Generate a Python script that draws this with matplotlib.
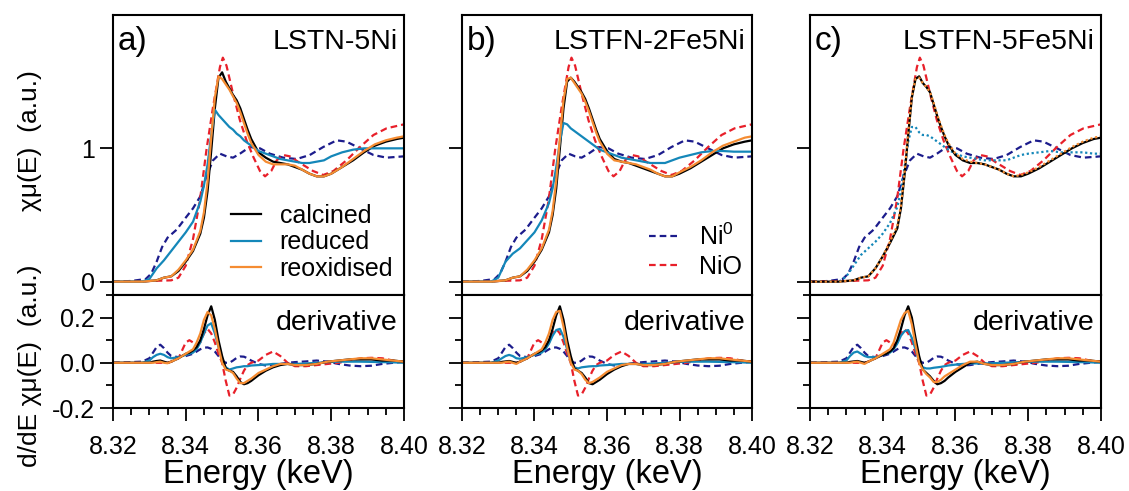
import matplotlib
matplotlib.use("Agg")
import matplotlib.pyplot as plt
from matplotlib.ticker import MultipleLocator

plt.rcParams['font.family'] = ['Liberation Sans', 'DejaVu Sans']
plt.rcParams['mathtext.fontset'] = 'custom'
plt.rcParams['mathtext.rm'] = 'Liberation Sans'
plt.rcParams['mathtext.it'] = 'Liberation Sans:italic'
plt.rcParams['axes.unicode_minus'] = False

# ---------------- data ----------------
panel_letters = ["a)", "b)", "c)"]
panel_names = ["LSTN-5Ni", "LSTFN-2Fe5Ni", "LSTFN-5Fe5Ni"]
series_labels = ["calcined", "reduced", "reoxidised"]
ref_labels = ["Ni$^{0}$", "NiO"]
x_ticks = [8.32, 8.34, 8.36, 8.38, 8.40]
x_tick_labels = ["8.32", "8.34", "8.36", "8.38", "8.40"]

# XANES energy grid for sample curves (keV)
E_x = [8.320, 8.328, 8.330, 8.332, 8.334, 8.336, 8.338, 8.340, 8.342, 8.344,
       8.345, 8.346, 8.347, 8.348, 8.349, 8.350, 8.351, 8.352, 8.353, 8.354,
       8.355, 8.356, 8.357, 8.358, 8.360, 8.362, 8.364, 8.366, 8.368, 8.370,
       8.372, 8.374, 8.376, 8.378, 8.380, 8.383, 8.386, 8.389, 8.392, 8.395,
       8.398, 8.400]

a_calcined = [0.0, 0.0, 0.005, 0.01, 0.03, 0.04, 0.08, 0.15, 0.23, 0.36,
              0.48, 0.68, 0.98, 1.30, 1.53, 1.57, 1.50, 1.45, 1.40, 1.36,
              1.30, 1.22, 1.14, 1.07, 0.97, 0.93, 0.90, 0.89, 0.88, 0.86,
              0.84, 0.81, 0.79, 0.79, 0.81, 0.86, 0.91, 0.97, 1.02, 1.05,
              1.07, 1.08]
a_reduced = [0.0, 0.0, 0.02, 0.10, 0.16, 0.23, 0.30, 0.37, 0.45, 0.60,
             0.72, 0.88, 1.10, 1.29, 1.25, 1.22, 1.19, 1.16, 1.14, 1.11,
             1.09, 1.06, 1.04, 1.02, 0.98, 0.96, 0.94, 0.92, 0.91, 0.90,
             0.89, 0.89, 0.90, 0.91, 0.94, 0.97, 0.99, 1.00, 1.00, 1.00,
             1.00, 1.00]
a_reoxidised = [0.0, 0.0, 0.005, 0.01, 0.03, 0.04, 0.09, 0.16, 0.24, 0.38,
                0.52, 0.75, 1.08, 1.38, 1.54, 1.52, 1.48, 1.44, 1.39, 1.34,
                1.27, 1.19, 1.11, 1.04, 0.95, 0.90, 0.88, 0.88, 0.88, 0.87,
                0.84, 0.81, 0.79, 0.79, 0.81, 0.86, 0.92, 0.98, 1.03, 1.06,
                1.08, 1.09]

b_calcined = [0.0, 0.0, 0.005, 0.01, 0.03, 0.04, 0.08, 0.15, 0.24, 0.37,
              0.50, 0.70, 1.00, 1.30, 1.50, 1.53, 1.50, 1.46, 1.42, 1.37,
              1.30, 1.22, 1.14, 1.07, 0.98, 0.92, 0.90, 0.89, 0.87, 0.85,
              0.83, 0.81, 0.79, 0.79, 0.81, 0.85, 0.90, 0.95, 1.00, 1.03,
              1.05, 1.06]
b_reduced = [0.0, 0.0, 0.03, 0.15, 0.21, 0.25, 0.31, 0.37, 0.46, 0.59,
             0.70, 0.86, 1.05, 1.19, 1.18, 1.15, 1.13, 1.11, 1.09, 1.07,
             1.05, 1.03, 1.01, 0.99, 0.97, 0.95, 0.93, 0.92, 0.91, 0.90,
             0.89, 0.89, 0.89, 0.91, 0.93, 0.95, 0.97, 0.98, 0.98, 0.975,
             0.975, 0.975]
b_reoxidised = [0.0, 0.0, 0.005, 0.01, 0.03, 0.04, 0.09, 0.16, 0.25, 0.39,
                0.53, 0.76, 1.08, 1.36, 1.52, 1.53, 1.49, 1.45, 1.41, 1.35,
                1.28, 1.20, 1.12, 1.05, 0.96, 0.91, 0.90, 0.89, 0.88, 0.86,
                0.84, 0.81, 0.79, 0.79, 0.82, 0.86, 0.91, 0.97, 1.02, 1.05,
                1.08, 1.09]

c_calcined = [0.0, 0.0, 0.005, 0.01, 0.03, 0.04, 0.10, 0.19, 0.29, 0.40,
              0.55, 0.80, 1.10, 1.38, 1.52, 1.54, 1.49, 1.46, 1.42, 1.33,
              1.24, 1.16, 1.09, 1.03, 0.95, 0.91, 0.89, 0.89, 0.88, 0.86,
              0.84, 0.81, 0.79, 0.79, 0.81, 0.85, 0.90, 0.95, 1.00, 1.04,
              1.07, 1.08]
c_reduced = [0.0, 0.0, 0.04, 0.12, 0.20, 0.25, 0.30, 0.36, 0.44, 0.56,
             0.68, 0.86, 1.05, 1.16, 1.16, 1.12, 1.10, 1.10, 1.09, 1.07,
             1.05, 1.03, 1.01, 0.99, 0.96, 0.94, 0.93, 0.92, 0.91, 0.91,
             0.91, 0.91, 0.93, 0.95, 0.96, 0.97, 0.98, 0.97, 0.97, 0.97,
             0.96, 0.96]
c_reoxidised = [0.0, 0.0, 0.005, 0.01, 0.03, 0.04, 0.10, 0.19, 0.30, 0.42,
                0.57, 0.82, 1.12, 1.39, 1.52, 1.53, 1.49, 1.46, 1.42, 1.34,
                1.25, 1.17, 1.10, 1.04, 0.96, 0.92, 0.90, 0.89, 0.88, 0.86,
                0.84, 0.81, 0.79, 0.80, 0.82, 0.86, 0.91, 0.96, 1.01, 1.05,
                1.08, 1.09]

# reference spectra
E_ni0 = [8.320, 8.325, 8.329, 8.3305, 8.332, 8.3335, 8.335, 8.3375, 8.340,
         8.342, 8.344, 8.3457, 8.3475, 8.3494, 8.3512, 8.353, 8.3549, 8.3576,
         8.3604, 8.3631, 8.3668, 8.3705, 8.3741, 8.3778, 8.3815, 8.3842,
         8.3879, 8.3916, 8.3952, 8.400]
ni0 = [0.0, 0.005, 0.02, 0.06, 0.15, 0.26, 0.33, 0.39, 0.48, 0.55, 0.64, 0.79,
       0.91, 0.96, 0.94, 0.93, 0.96, 1.01, 1.00, 0.96, 0.93, 0.92, 0.95, 1.01,
       1.06, 1.05, 1.00, 0.95, 0.93, 0.94]
E_nio = [8.320, 8.330, 8.336, 8.338, 8.340, 8.342, 8.3439, 8.3457, 8.3475,
         8.3494, 8.3502, 8.3512, 8.353, 8.3549, 8.3567, 8.3585, 8.3604, 8.3618,
         8.3635, 8.365, 8.3668, 8.3686, 8.3714, 8.375, 8.3778, 8.3806, 8.3842,
         8.3879, 8.3916, 8.3952, 8.400]
nio = [0.0, 0.005, 0.01, 0.03, 0.12, 0.32, 0.61, 0.99, 1.31, 1.61, 1.68, 1.62,
       1.41, 1.21, 1.06, 0.94, 0.83, 0.79, 0.83, 0.91, 0.95, 0.94, 0.89, 0.83,
       0.80, 0.83, 0.91, 1.01, 1.10, 1.15, 1.18]

# derivative energy grid (keV)
E_d = [8.320, 8.328, 8.330, 8.331, 8.332, 8.333, 8.334, 8.335, 8.336, 8.338,
       8.340, 8.341, 8.342, 8.343, 8.344, 8.345, 8.346, 8.347, 8.348, 8.349,
       8.350, 8.351, 8.352, 8.353, 8.354, 8.355, 8.356, 8.357, 8.358, 8.360,
       8.362, 8.364, 8.366, 8.368, 8.370, 8.373, 8.376, 8.379, 8.382, 8.385,
       8.388, 8.391, 8.394, 8.397, 8.400]

a_d_calcined = [0, 0, 0.0, 0.005, 0.008, 0.01, 0.005, 0.0, 0.005, 0.02,
                0.04, 0.045, 0.055, 0.07, 0.10, 0.15, 0.21, 0.25, 0.19, 0.10,
                0.03, -0.025, -0.035, -0.04, -0.06, -0.085, -0.095, -0.09, -0.08, -0.055,
                -0.035, -0.02, -0.01, -0.005, -0.01, -0.01, -0.005, 0.005, 0.01, 0.015,
                0.015, 0.015, 0.01, 0.01, 0.005]
a_d_reduced = [0, 0, 0.01, 0.025, 0.035, 0.04, 0.035, 0.025, 0.02, 0.025,
               0.035, 0.04, 0.045, 0.06, 0.09, 0.13, 0.165, 0.175, 0.13, 0.07,
               0.01, -0.02, -0.03, -0.025, -0.02, -0.018, -0.015, -0.015, -0.012, -0.01,
               -0.008, -0.005, -0.005, -0.005, -0.005, -0.003, 0.0, 0.003, 0.005, 0.005,
               0.005, 0.004, 0.003, 0.002, 0.0]
a_d_reoxidised = [0, 0, 0, 0.0, 0.003, 0.005, 0.0, -0.002, 0.005, 0.02,
                  0.04, 0.05, 0.06, 0.09, 0.13, 0.19, 0.225, 0.21, 0.15, 0.07,
                  0.0, -0.03, -0.035, -0.045, -0.07, -0.09, -0.09, -0.08, -0.07, -0.045,
                  -0.03, -0.015, -0.005, -0.005, -0.01, -0.01, -0.005, 0.005, 0.01, 0.015,
                  0.02, 0.02, 0.015, 0.01, 0.005]

b_d_calcined = [0, 0, 0.0, 0.004, 0.006, 0.008, 0.004, 0.0, 0.005, 0.02,
                0.04, 0.045, 0.055, 0.07, 0.10, 0.15, 0.21, 0.25, 0.19, 0.10,
                0.03, -0.025, -0.035, -0.045, -0.065, -0.09, -0.095, -0.085, -0.075, -0.05,
                -0.03, -0.015, -0.005, -0.005, -0.01, -0.01, -0.005, 0.005, 0.01, 0.015,
                0.015, 0.015, 0.01, 0.01, 0.005]
b_d_reduced = [0, 0, 0.01, 0.02, 0.03, 0.035, 0.03, 0.02, 0.018, 0.025,
               0.035, 0.04, 0.045, 0.06, 0.085, 0.12, 0.145, 0.15, 0.115, 0.06,
               0.005, -0.02, -0.025, -0.02, -0.018, -0.016, -0.015, -0.015, -0.012, -0.01,
               -0.008, -0.005, -0.005, -0.005, -0.005, -0.003, 0.0, 0.003, 0.005, 0.005,
               0.005, 0.004, 0.003, 0.002, 0.0]
b_d_reoxidised = [0, 0, 0, 0.0, 0.003, 0.005, 0.0, -0.005, 0.005, 0.02,
                  0.04, 0.05, 0.06, 0.09, 0.13, 0.19, 0.225, 0.23, 0.16, 0.07,
                  0.0, -0.03, -0.035, -0.05, -0.075, -0.09, -0.085, -0.075, -0.065, -0.04,
                  -0.025, -0.01, -0.005, -0.005, -0.01, -0.01, -0.005, 0.005, 0.01, 0.015,
                  0.02, 0.02, 0.015, 0.01, 0.005]

c_d_calcined = [0, 0, 0.0, 0.004, 0.006, 0.008, 0.004, 0.0, 0.005, 0.02,
                0.035, 0.04, 0.05, 0.065, 0.10, 0.15, 0.21, 0.25, 0.20, 0.11,
                0.03, -0.03, -0.045, -0.06, -0.08, -0.095, -0.09, -0.08, -0.065, -0.04,
                -0.02, 0.0, 0.005, -0.005, -0.01, -0.01, -0.005, 0.005, 0.01, 0.015,
                0.015, 0.015, 0.01, 0.01, 0.005]
c_d_reduced = [0, 0, 0.01, 0.03, 0.045, 0.05, 0.04, 0.03, 0.025, 0.025,
               0.035, 0.04, 0.045, 0.06, 0.085, 0.12, 0.14, 0.145, 0.11, 0.06,
               0.005, -0.02, -0.025, -0.025, -0.022, -0.02, -0.018, -0.015, -0.012, -0.008,
               -0.005, -0.003, -0.003, -0.003, -0.002, 0.0, 0.002, 0.004, 0.005, 0.005,
               0.005, 0.004, 0.003, 0.002, 0.0]
c_d_reoxidised = [0, 0, 0, 0.0, 0.003, 0.005, 0.0, -0.005, 0.005, 0.02,
                  0.04, 0.05, 0.06, 0.09, 0.14, 0.19, 0.22, 0.23, 0.17, 0.08,
                  0.0, -0.03, -0.05, -0.065, -0.085, -0.085, -0.075, -0.06, -0.05, -0.03,
                  -0.01, 0.005, 0.005, -0.005, -0.01, -0.01, -0.005, 0.005, 0.01, 0.015,
                  0.02, 0.02, 0.015, 0.01, 0.005]

d_ni0 = [0, 0.005, 0.02, 0.045, 0.07, 0.08, 0.065, 0.045, 0.03, 0.025,
         0.03, 0.035, 0.04, 0.05, 0.06, 0.067, 0.068, 0.062, 0.05, 0.03,
         0.01, 0.0, 0.0, 0.01, 0.022, 0.028, 0.027, 0.02, 0.01, -0.005,
         -0.012, -0.01, -0.005, 0.0, 0.003, 0.006, 0.01, 0.005, -0.005, -0.012,
         -0.015, -0.013, -0.005, 0.0, 0.005]
d_nio = [0, 0, 0, 0, 0, 0, 0, 0, 0.005, 0.02,
         0.09, 0.10, 0.09, 0.08, 0.09, 0.13, 0.15, 0.13, 0.09, 0.04,
         0.0, -0.08, -0.145, -0.14, -0.11, -0.07, -0.035, -0.01, 0.0, 0.01,
         0.035, 0.05, 0.03, 0.0, -0.015, -0.015, -0.01, -0.005, 0.0, 0.01,
         0.02, 0.022, 0.02, 0.01, 0.005]

calcined_all = [a_calcined, b_calcined, c_calcined]
reduced_all = [a_reduced, b_reduced, c_reduced]
reoxidised_all = [a_reoxidised, b_reoxidised, c_reoxidised]
d_calcined_all = [a_d_calcined, b_d_calcined, c_d_calcined]
d_reduced_all = [a_d_reduced, b_d_reduced, c_d_reduced]
d_reoxidised_all = [a_d_reoxidised, b_d_reoxidised, c_d_reoxidised]

# ---------------- style ----------------
C_CALC = "#000000"
C_RED = "#1487b9"
C_REOX = "#f58c32"
C_NI0 = "#1c1c8c"
C_NIO = "#e8202a"
LW = 1.6
DASH = (0, (3.0, 1.8))
DOT = (0, (1, 1.2))

W, H = 1129, 491
fig = plt.figure(figsize=(W / 100, H / 100), dpi=100)

lefts_px = [113, 462, 810]
widths_px = [291, 290, 291]
top_px, mid_px, bot_px = 15, 295, 408

FS_TICK = 18
for i in range(3):
    l = lefts_px[i] / W
    w = widths_px[i] / W
    ax_t = fig.add_axes([l, (H - mid_px) / H, w, (mid_px - top_px) / H])
    ax_b = fig.add_axes([l, (H - bot_px) / H, w, (bot_px - mid_px) / H], sharex=ax_t)

    h_ni0, = ax_t.plot(E_ni0, ni0, color=C_NI0, lw=LW, ls=DASH, label=ref_labels[0])
    h_nio, = ax_t.plot(E_nio, nio, color=C_NIO, lw=LW, ls=DASH, label=ref_labels[1])
    if i < 2:
        hc, = ax_t.plot(E_x, calcined_all[i], color=C_CALC, lw=LW, label=series_labels[0])
        hr, = ax_t.plot(E_x, reduced_all[i], color=C_RED, lw=LW, label=series_labels[1])
        ho, = ax_t.plot(E_x, reoxidised_all[i], color=C_REOX, lw=LW, label=series_labels[2])
    else:
        hr, = ax_t.plot(E_x, reduced_all[i], color=C_RED, lw=LW, ls=DOT,
                        label=series_labels[1])
        hc, = ax_t.plot(E_x, calcined_all[i], color=C_CALC, lw=LW, label=series_labels[0])
        ho, = ax_t.plot(E_x, reoxidised_all[i], color=C_REOX, lw=LW, ls=DOT,
                        label=series_labels[2])
    if i == 0:
        lines_legend = [hc, hr, ho]

    ax_b.plot(E_d, d_ni0, color=C_NI0, lw=LW, ls=DASH)
    ax_b.plot(E_d, d_nio, color=C_NIO, lw=LW, ls=DASH)
    ax_b.plot(E_d, d_reduced_all[i], color=C_RED, lw=LW)
    ax_b.plot(E_d, d_calcined_all[i], color=C_CALC, lw=LW)
    ax_b.plot(E_d, d_reoxidised_all[i], color=C_REOX, lw=LW)

    for ax in (ax_t, ax_b):
        ax.set_xlim(8.32, 8.40)
        for s in ax.spines.values():
            s.set_linewidth(1.5)
    ax_t.set_ylim(-0.1, 2.0)
    ax_b.set_ylim(-0.2, 0.3)

    ax_b.set_xticks(x_ticks)
    ax_b.set_xticklabels(x_tick_labels)
    ax_b.xaxis.set_minor_locator(MultipleLocator(0.005))
    ax_t.set_yticks([0, 1])
    ax_b.set_yticks([-0.2, 0.0, 0.2])
    ax_b.yaxis.set_minor_locator(MultipleLocator(0.1))

    ax_t.tick_params(axis='x', which='both', direction='out', bottom=True, top=False,
                     labelbottom=False, width=1.3)
    ax_t.tick_params(axis='x', which='major', length=6.5)
    ax_t.tick_params(axis='x', which='minor', length=5.5)
    ax_t.tick_params(axis='y', which='major', direction='out', length=9.5, width=1.3,
                     labelsize=FS_TICK, pad=3.5)
    ax_b.tick_params(axis='x', which='major', direction='out', length=9, width=1.3,
                     labelsize=FS_TICK, pad=10.5)
    ax_b.tick_params(axis='x', which='minor', direction='out', length=5, width=1.3)
    ax_b.tick_params(axis='y', which='major', direction='out', length=9.5, width=1.3,
                     labelsize=FS_TICK, pad=3.5)
    ax_b.tick_params(axis='y', which='minor', direction='out', length=5, width=1.3)
    if i > 0:
        ax_t.tick_params(axis='y', labelleft=False)
        ax_b.tick_params(axis='y', labelleft=False)

    ax_b.set_xlabel("Energy (keV)", fontsize=23.5, labelpad=0)

    ax_t.text(0.017, 0.905, panel_letters[i], transform=ax_t.transAxes,
              fontsize=24, ha='left', va='center')
    ax_t.text(0.978, 0.905, panel_names[i], transform=ax_t.transAxes,
              fontsize=20.5, ha='right', va='center')
    ax_b.text(0.978, 0.75, "derivative", transform=ax_b.transAxes,
              fontsize=20.5, ha='right', va='center')

    if i == 0:
        ax_t.legend(handles=lines_legend, loc='upper left',
                    bbox_to_anchor=(0.405, 0.326), frameon=False, fontsize=18,
                    handlelength=1.2, handletextpad=0.75, labelspacing=0.11,
                    borderpad=0, borderaxespad=0)
    if i == 1:
        ax_t.legend(handles=[h_ni0, h_nio], loc='upper left',
                    bbox_to_anchor=(0.645, 0.255), frameon=False, fontsize=18,
                    handlelength=1.1, handletextpad=0.9, labelspacing=0.2,
                    borderpad=0, borderaxespad=0)

fig.text(30 / W, 1 - 141 / H, "χμ(E)  (a.u.)", rotation=90, fontsize=19,
         ha='center', va='center')
fig.text(30 / W, 1 - 366 / H, "d/dE χμ(E)  (a.u.)", rotation=90, fontsize=19,
         ha='center', va='center')

fig.savefig("out.png", dpi=100)
